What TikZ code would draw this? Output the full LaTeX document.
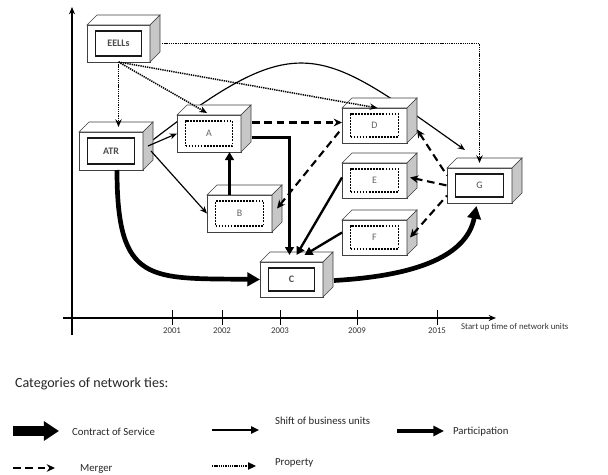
\documentclass[tikz,border=0pt]{standalone}
\usepackage{fontspec}
\setmainfont{Carlito}
\usetikzlibrary{arrows.meta,calc}
\pgfdeclarelayer{background}
\pgfsetlayers{background,main}

\def\unitpx{0.03cm}
\def\boxdepth{10}

\tikzstyle{unitface} = [draw=black!75,fill=white,line width=0.5pt,inner sep=0pt,outer sep=0pt]
\tikzstyle{unittop} = [draw=black!75,fill=white,line width=0.5pt]
\tikzstyle{unitside} = [draw=black!75,fill=black!22,line width=0.5pt]
\tikzstyle{solidinner} = [draw=black!90,line width=1.4pt,inner sep=0pt,text=black!70]
\tikzstyle{dottedinner} = [draw=black,line width=1.7pt,dash pattern=on 1.5pt off 1.1pt,inner sep=0pt,text=black!60]
\tikzstyle{axis} = [draw,line width=1pt,-{Stealth[length=2.2mm,width=1.8mm]}]
\tikzstyle{year} = [font=\fontsize{7.5}{9}\selectfont,text=black!80]
\tikzstyle{legendtext} = [anchor=west,font=\fontsize{9.2}{11}\selectfont,text=black!85]
\tikzstyle{contract edge} = [draw,line width=4pt,-{Triangle[length=3.8mm,width=4mm]}]
\tikzstyle{shift edge} = [draw,line width=1pt,-{Stealth[length=2.2mm,width=1.8mm]}]
\tikzstyle{participation edge} = [draw,line width=2pt,-{Triangle[length=2.4mm,width=2.6mm]}]
\tikzstyle{merger edge} = [draw,line width=1.8pt,dash pattern=on 6.5pt off 4pt,-{Stealth[length=2.5mm,width=2.3mm]}]
\tikzstyle{property edge} = [draw,line width=1.3pt,dash pattern=on 1.1pt off 0.8pt,-{Stealth[length=2.3mm,width=1.9mm]}]

\begin{document}
\begin{tikzpicture}[x=\unitpx,y=-\unitpx]
    \useasboundingbox (0,0) rectangle (608,475);
    %% axes
    \coordinate (ybot) at (72,335);
    \coordinate (ytop) at (72,7);
    \coordinate (xleft) at (63,318);
    \coordinate (xright) at (496,318);
    \draw[axis] (ybot) -- (ytop);
    \draw[axis] (xleft) -- (xright);
    \foreach \yr/\x in {2001/172, 2002/222, 2003/280, 2009/357, 2015/437}
    {
      \draw[line width=0.6pt] (\x,310) -- (\x,325);
      \node[year] (y\yr) at (\x,331) {\yr};
    }
    \node[year,anchor=west] (timelabel) at (457,327) {Start up time of network units};

    %% network units
    \foreach \nodename/\x/\y/\w/\h/\inner/\fnt in {
      EELLs/118.5/43.5/63/37/solidinner/\bfseries,
      ATR/111/151/64/38/solidinner/\bfseries,
      A/209/133.5/64/37/dottedinner/\mdseries,
      B/239.5/213.5/65/37/dottedinner/\mdseries,
      D/374.5/125.5/65/35/dottedinner/\mdseries,
      E/374.5/180.5/65/35/dottedinner/\mdseries,
      F/374.5/237.5/65/35/dottedinner/\mdseries,
      C/291.5/279.5/63/35/solidinner/\bfseries,
      G/479.5/185.5/65/35/solidinner/\mdseries}
    {
      \node[unitface, minimum width=\w*\unitpx, minimum height=\h*\unitpx] (\nodename) at (\x,\y) {};
      \path[unittop] (\nodename.north west) -- ++(\boxdepth,-\boxdepth) -- ++(\w,0) -- (\nodename.north east) -- cycle;
      \path[unitside] (\nodename.north east) -- ++(\boxdepth,-\boxdepth) -- ++(0,\h) -- (\nodename.south east) -- cycle;
      \node[\inner, minimum width=(\w-17)*\unitpx, minimum height=(\h-12)*\unitpx] (\nodename-in) at (\nodename)
        {\fontsize{8.5}{10}\selectfont\fnt\nodename};
      \coordinate (\nodename-t) at ([shift={(5,-5)}]\nodename.north);
      \coordinate (\nodename-r) at ([shift={(5,-5)}]\nodename.east);
    }

    %% shift of business units passing behind A and D
    \begin{pgfonlayer}{background}
      \draw[shift edge] ([shift={(6,-8)}]ATR.east) .. controls (300,26) and (318,46) .. ([shift={(18,-18)}]G.north west);
    \end{pgfonlayer}

    %% property
    \draw[property edge] (EELLs.south) -- (EELLs.south |- ATR-t);
    \draw[property edge] (EELLs.south) -- ([shift={(-2,-2)}]A.north);
    \draw[property edge] (EELLs.south) -- ([shift={(3,0)}]D.north);
    \draw[property edge] ([shift={(12,0)}]EELLs.east) -| ([shift={(0,-5)}]G.north);

    %% shift of business units
    \draw[shift edge] (ATR-r) -- (A.west);
    \draw[shift edge] ([shift={(8,0)}]ATR.east) -- (B.west);

    %% participation
    \draw[participation edge] ([shift={(-10,0)}]B.north) -- ([shift={(-10,0)}]B.north |- A.south);
    \draw[participation edge] ([shift={(11,4)}]A.east) -| ([shift={(-2,-7)}]C.north);
    \draw[participation edge] ([shift={(0,-3)}]E.west) -- ([shift={(5,-7)}]C.north);
    \draw[participation edge] ([shift={(0,-5)}]F.west) -- ([shift={(13,-7)}]C.north);

    %% merger
    \draw[merger edge] ([shift={(11,-11)}]A.east) coordinate (a-out) -- (a-out -| D.west);
    \draw[merger edge,{Stealth[length=2.5mm,width=2.3mm]}-] (B-r) -- ([shift={(-1,4)}]D.west);
    \draw[merger edge,{Stealth[length=2.5mm,width=2.3mm]}-] ([shift={(10,4)}]D.east) -- ([shift={(0,-10)}]G.west);
    \draw[merger edge,{Stealth[length=2.5mm,width=2.3mm]}-] ([shift={(3,-3)}]E.east) -- (G.west);
    \draw[merger edge,{Stealth[length=2.5mm,width=2.3mm]}-] ([shift={(3,0)}]F.east) -- ([shift={(0,10)}]G.west);

    %% contract of service
    \draw[contract edge] ([shift={(6,0)}]ATR.south) .. controls (117,285) and (150,278) .. (C.west);
    \draw[contract edge] ([shift={(11,1)}]C.east) .. controls (430,275) and (468,250) .. ([shift={(-3,3)}]G.south);

    %% legend
    \node[anchor=west,font=\fontsize{12}{14}\selectfont,text=black!85] (categories) at (11,384) {Categories of network ties:};
    \coordinate (cs-a) at (13,431);  \coordinate (cs-b) at (59,431);
    \coordinate (sb-a) at (212,430); \coordinate (sb-b) at (259,430);
    \coordinate (pa-a) at (397,431); \coordinate (pa-b) at (444,431);
    \coordinate (me-a) at (13,468);  \coordinate (me-b) at (55,468);
    \coordinate (pr-a) at (212,466); \coordinate (pr-b) at (256,466);
    \draw[line width=8.5pt,-{Triangle[length=4.5mm,width=5.6mm]}] (cs-a) -- (cs-b);
    \draw[line width=1.2pt,-{Triangle[length=2.4mm,width=2.2mm]}] (sb-a) -- (sb-b);
    \draw[line width=2.6pt,-{Triangle[length=3.2mm,width=3mm]}] (pa-a) -- (pa-b);
    \draw[merger edge,line width=2.2pt] (me-a) -- (me-b);
    \draw[property edge,line width=0.9pt,-{Triangle[length=2.4mm,width=2.2mm]}] (pr-a) -- (pr-b);
    \node[legendtext] (cs-txt) at (68,432) {Contract of Service};
    \node[legendtext] (sb-txt) at (271,421) {Shift of business units};
    \node[legendtext] (pa-txt) at (449,432) {Participation};
    \node[legendtext] (me-txt) at (76,469) {Merger};
    \node[legendtext] (pr-txt) at (271,463) {Property};
\end{tikzpicture}
\end{document}
